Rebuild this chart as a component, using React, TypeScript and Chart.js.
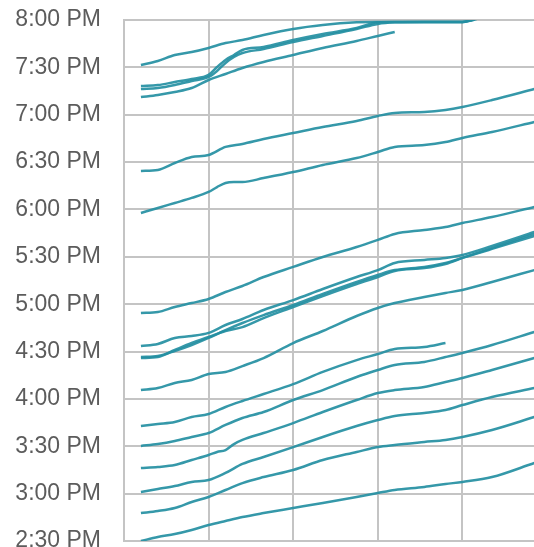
import React, { useEffect, useRef } from "react";
import { Chart, registerables } from "chart.js";

Chart.register(...registerables);

// x positions (arbitrary units; gridlines every 10)
const X = [2, 4, 6, 8, 10, 11, 12, 13, 14, 16.5, 20, 23.5, 27.5, 30, 32, 35.5, 38, 40, 43.5, 48.5];

// y-axis tick values (minutes after midnight) shown as times
const Y_TICKS_MIN = 870;
const Y_TICKS_MAX = 1200;
const Y_TICK_STEP = 30;

// series values in minutes after midnight (null = no reading)
const seriesTop = [1171.5, 1174, 1177.8, 1179.7, 1182.3, null, 1185.4, null, 1187.3, 1190.5, 1194.3, 1196.8, 1198.5, 1198.8, 1198.8, 1198.8, 1198.8, 1198.8, 1205, 1209.5];
const seriesA = [1158.2, 1158.8, 1160.7, 1162.6, 1165.2, 1170.2, 1174.7, 1177.8, 1181, 1182.9, 1187.3, 1191.1, 1194.9, 1198.5, 1198.8, 1198.8, 1198.8, 1198.8, 1205, 1209.5];
const seriesB = [1156.3, 1156.9, 1158.8, 1161.4, 1163.9, 1167.7, 1172.8, 1176.6, 1179.1, 1181.6, 1186.1, 1189.9, 1194.3, 1197.5, 1198.5, 1198.8, 1198.8, 1198.8, 1203.8, 1208.9];
const seriesC = [1151.2, 1152.5, 1154.4, 1156.9, 1162, null, 1165.8, null, 1169.6, 1173.4, 1177.8, 1182.3, 1186.7, 1189.9, 1192.4, null, null, null, null, null];
const series625 = [1104.4, 1105, 1109.4, 1113.2, 1114.5, null, 1119.6, null, 1121.5, 1124.6, 1128.4, 1132.2, 1136, 1139.2, 1141.1, 1141.7, 1143, 1144.9, 1149.3, 1156.3];
const series600 = [1077.8, 1080.9, 1084.1, 1087.3, 1091.1, 1094.2, 1096.8, 1097.4, 1097.4, 1099.9, 1103.7, 1108.2, 1112.6, 1116.4, 1119.6, 1120.8, 1122.7, 1125.3, 1129.1, 1135.4];
const series455 = [1014.4, 1015, 1018.2, 1020.7, 1023.3, null, 1027.7, null, 1031.5, 1037.2, 1043.6, 1049.9, 1056.2, 1060.7, 1064.5, 1067, 1068.9, 1071.4, 1075.2, 1081.6];
const series433 = [993.5, 994.8, 998.6, 999.8, 1001.8, null, 1006.8, null, 1010.6, 1016.3, 1022.6, 1029.6, 1037.2, 1041.6, 1046.1, 1048, 1049.3, 1051.2, 1056.9, 1065.7];
const series427a = [985.9, 986.5, 991, 995.4, 999.2, null, 1003, null, 1005.5, 1011.2, 1018.2, 1025.2, 1032.8, 1037.2, 1041, 1042.9, 1045.5, 1049.3, 1055.6, 1064.5];
const series427b = [986.5, 987.2, 990.3, 994.1, 998.6, null, 1003.6, null, 1008.1, 1013.1, 1019.5, 1026.5, 1034.1, 1038.5, 1041.6, 1043.6, 1046.1, 1049.3, 1055, 1063.2];
const series405 = [965.6, 966.9, 970.1, 972, 975.8, null, 977.1, null, 980.8, 985.9, 995.4, 1003, 1012.5, 1017.6, 1020.7, 1024.5, 1027.1, 1029, 1034.1, 1041.6];
const series343 = [942.8, 944.1, 945.4, 948.5, 950.4, null, 954.9, null, 958.7, 963.1, 969.4, 977.1, 984.6, 988.4, 991.6, 992.9, 995.4, null, null, null];
const series330 = [930.2, 931.4, 933.3, 935.9, 938.4, null, 943.5, null, 947.9, 951.7, 959.3, 965.6, 973.9, 978.3, 981.5, 983.4, 986.5, 989.1, 994.1, 1002.4];
const series315 = [916.2, 916.9, 918.1, 921.3, 924.5, 926.4, 927.6, 931.4, 934, 938.4, 944.7, 951.7, 959.3, 963.7, 965.6, 967.6, 970.7, 973.2, 978.3, 985.9];
const series300 = [901, 902.9, 904.8, 907.4, 908.6, null, 913.1, null, 918.8, 923.2, 929.5, 935.9, 942.8, 946.6, 949.2, 951.1, 953, 956.1, 961.2, 966.9];
const series252 = [887.7, 889, 890.9, 894.7, 897.9, null, 902.3, null, 906.7, 910.5, 915, 921.3, 926.4, 929.5, 930.8, 932.7, 934, 935.9, 940.3, 948.5];
const series230 = [870, 872.5, 874.4, 877, 880.1, null, 882.7, null, 885.2, 887.7, 890.9, 894.1, 897.9, 900.4, 902.3, 904.2, 906.1, 907.4, 910.5, 919.4];

const ALL_SERIES = [
  seriesTop, seriesA, seriesB, seriesC, series625, series600, series455, series433,
  series427a, series427b, series405, series343, series330, series315, series300, series252, series230,
];

function fmtTime(m: number): string {
  const h24 = Math.floor(m / 60);
  const mm = Math.round(m - h24 * 60);
  const suffix = h24 >= 12 ? "PM" : "AM";
  let h = h24 % 12;
  if (h === 0) h = 12;
  return `${h}:${mm < 10 ? "0" + mm : mm} ${suffix}`;
}

const GRID = "#c4c4c4";
const LINE = "rgba(36,143,162,0.92)";
const FONT = "'Liberation Sans', Arial, sans-serif";

export default function App() {
  const ref = useRef<HTMLCanvasElement | null>(null);

  useEffect(() => {
    if (!ref.current) return;
    const datasets = ALL_SERIES.map((arr, k) => ({
      label: "s" + k,
      data: X.map((x, i) => ({ x, y: arr[i] })),
      borderColor: LINE,
      borderWidth: 2.5,
      pointRadius: 0,
      fill: false,
      spanGaps: true,
      cubicInterpolationMode: "monotone" as const,
    }));
    const chart = new Chart(ref.current, {
      type: "line",
      data: { datasets },
      options: {
        animation: false,
        responsive: false,
        layout: { padding: { top: 20, bottom: 20, left: 0, right: 0 } },
        plugins: { legend: { display: false }, tooltip: { enabled: false } },
        scales: {
          x: {
            type: "linear",
            min: 0,
            max: 50,
            ticks: { display: false, stepSize: 10 },
            grid: { color: GRID, lineWidth: 2, drawTicks: false },
            border: { color: GRID, width: 2 },
            afterFit: (s: any) => {
              s.height = 0;
              s.paddingLeft = 0;
              s.paddingRight = 0;
            },
          },
          y: {
            type: "linear",
            min: Y_TICKS_MIN,
            max: Y_TICKS_MAX,
            ticks: {
              stepSize: Y_TICK_STEP,
              padding: 23,
              color: "#5c5c5c",
              font: { family: FONT, size: 23 },
              autoSkip: false,
              callback: (v: any) => fmtTime(Number(v)),
            },
            grid: { color: GRID, lineWidth: 2, drawTicks: false },
            border: { color: GRID, width: 2 },
            afterFit: (s: any) => {
              s.width = 124;
              s.paddingTop = 0;
              s.paddingBottom = 0;
            },
          },
        },
      },
    });
    return () => chart.destroy();
  }, []);

  return (
    <div
      style={{
        position: "fixed",
        left: 0,
        top: 0,
        width: 534,
        height: 547,
        overflow: "hidden",
        background: "#fff",
      }}
    >
      <canvas ref={ref} width={547} height={561} style={{ width: 547, height: 561, display: "block" }} />
    </div>
  );
}
